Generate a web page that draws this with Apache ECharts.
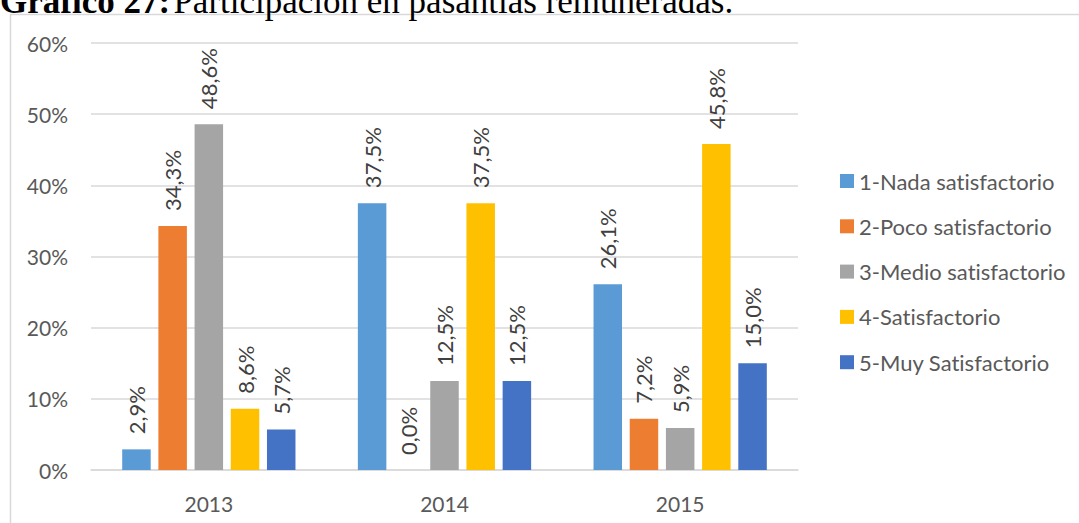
<!DOCTYPE html>
<html><head><meta charset="utf-8">
<script src="https://cdn.jsdelivr.net/npm/echarts@6/dist/echarts.min.js"></script>
<style>html,body{margin:0;padding:0;background:#fff}#c{width:1079px;height:523px}
#c text{font-variant-ligatures:none;font-feature-settings:"liga" 0,"clig" 0}</style>
</head><body><div id="c"></div>
<script>
var categories = ['2013', '2014', '2015'];
var seriesNames = ['1-Nada satisfactorio', '2-Poco satisfactorio', '3-Medio satisfactorio', '4-Satisfactorio', '5-Muy Satisfactorio'];
var nada = [2.9, 37.5, 26.1];
var poco = [34.3, 0.0, 7.2];
var medio = [48.6, 12.5, 5.9];
var satisf = [8.6, 37.5, 45.8];
var muy = [5.7, 12.5, 15.0];
var colors = ['#5B9BD5', '#ED7D31', '#A5A5A5', '#FFC000', '#4472C4'];
var yMin = 0, yMax = 60, yStep = 10;

var FONT = 'Lato';
var values = [nada, poco, medio, satisf, muy];
var chart = echarts.init(document.getElementById('c'), null, {renderer: 'svg'});
var series = values.map(function (d, i) {
  return {
    name: seriesNames[i], type: 'bar', data: d, barWidth: 28.5, barGap: '27%',
    itemStyle: {color: colors[i]},
    label: {
      show: true, position: 'top', rotate: 90, distance: 15, align: 'left', verticalAlign: 'middle',
      color: '#404040', fontFamily: FONT, fontSize: 22,
      formatter: function (p) { return p.value.toFixed(1).replace('.', ',') + '%'; }
    }
  };
});
chart.setOption({
  animation: false,
  color: colors,
  graphic: [
    {type: 'rect', shape: {x: 10.5, y: 14.5, width: 1200, height: 700}, style: {fill: 'none', stroke: '#D9D9D9', lineWidth: 1.5}, silent: true},
    {type: 'text', left: 0, top: -16, style: {
      text: '{b|Gráfico 27:} {r|Participación en pasantías remuneradas.}',
      rich: {
        b: {fontFamily: 'Liberation Serif', fontWeight: 'bold', fontSize: 35, fill: '#000', color: '#000'},
        r: {fontFamily: 'Liberation Serif', fontSize: 35, fill: '#000', color: '#000'}
      }
    }}
  ],
  grid: {left: 91, right: 281, top: 43, bottom: 53, containLabel: false},
  legend: {
    orient: 'vertical', left: 840, top: 170, itemWidth: 14, itemHeight: 14, itemGap: 23.3, padding: 0,
    icon: 'rect',
    textStyle: {color: '#595959', fontFamily: FONT, fontSize: 22, lineHeight: 20, padding: [0, 0, 0, 0]},
    data: seriesNames
  },
  xAxis: {
    type: 'category', data: categories,
    axisLine: {lineStyle: {color: '#D9D9D9', width: 1.5}},
    axisTick: {show: false},
    axisLabel: {color: '#595959', fontFamily: FONT, fontSize: 21, margin: 23}
  },
  yAxis: {
    type: 'value', min: yMin, max: yMax, interval: yStep,
    axisLine: {show: false}, axisTick: {show: false},
    splitLine: {lineStyle: {color: '#D9D9D9', width: 1.5}},
    axisLabel: {color: '#595959', fontFamily: FONT, fontSize: 21, margin: 23, formatter: '{value}%'}
  },
  series: series
});
</script></body></html>
